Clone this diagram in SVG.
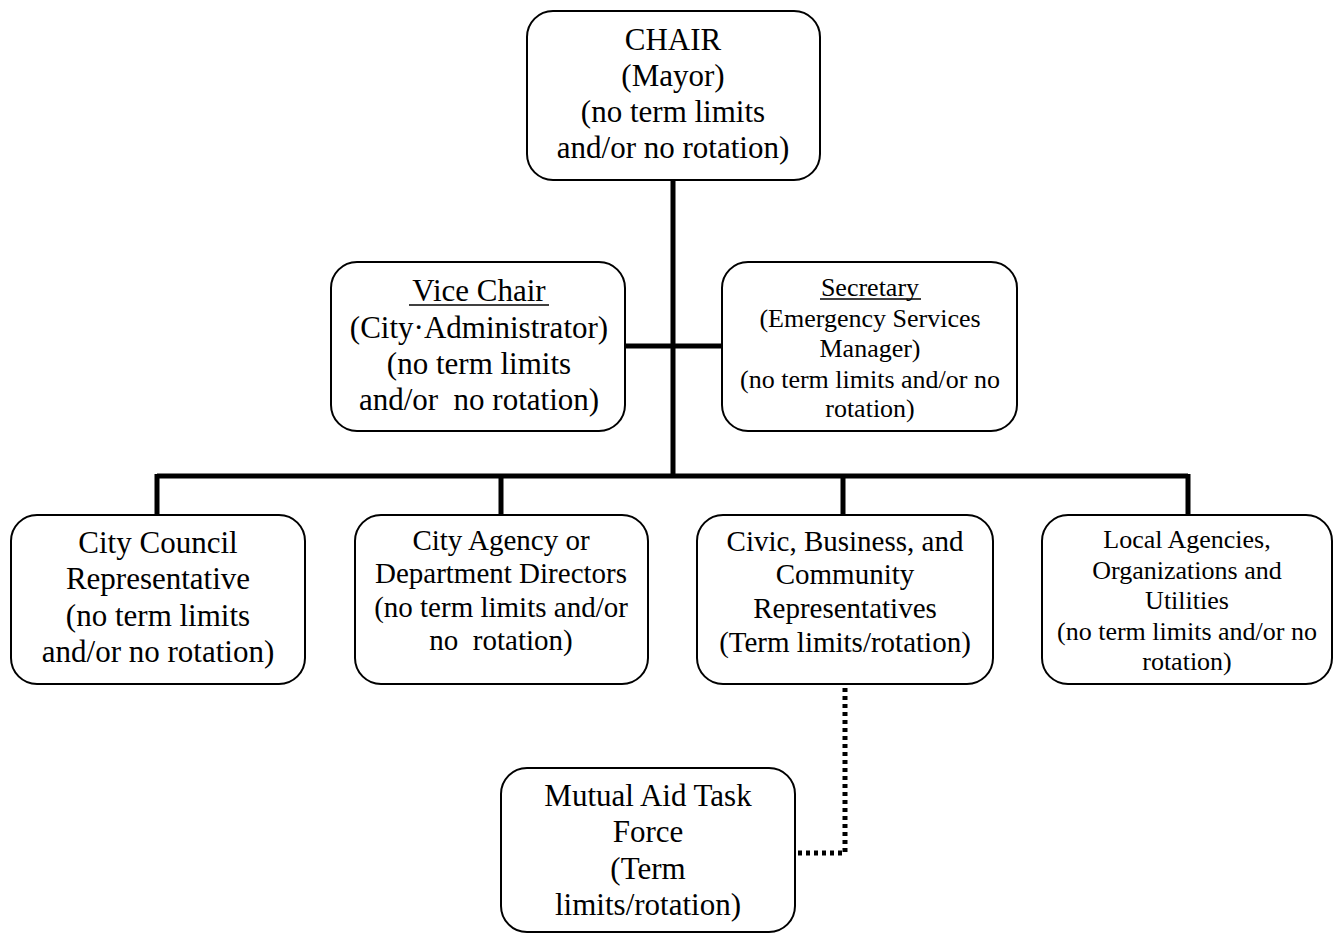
<svg xmlns="http://www.w3.org/2000/svg" width="1339" height="934" viewBox="0 0 1339 934">
<style>
.box{fill:#fff;stroke:#000;stroke-width:2}
.t{font-family:"Liberation Serif","Times New Roman",serif;fill:#000;text-anchor:middle}
.l{font-size:31px}
.m{font-size:29px}
.s{font-size:26px}
.bus{fill:none;stroke:#000;stroke-width:5}
.dot{fill:none;stroke:#000;stroke-width:5;stroke-dasharray:4 4}
.u{stroke:#000;stroke-width:1.5}
</style>
<rect width="1339" height="934" fill="#fff"/>
<g id="connectors">
<path class="bus" d="M673 180V476M625 346H722M157 476H1188M157 474V515M501 474V515M843 474V515M1188 474V515"/>
<path class="dot" d="M845 688V853H797"/>
</g>
<g id="chair">
<rect class="box" x="527" y="11" width="293" height="169" rx="26"/>
<text class="t l" x="673" y="50">CHAIR</text>
<text class="t l" x="673" y="86">(Mayor)</text>
<text class="t l" x="673" y="122">(no term limits</text>
<text class="t l" x="673" y="158">and/or no rotation)</text>
</g>
<g id="vice-chair">
<rect class="box" x="331" y="262" width="294" height="169" rx="26"/>
<text class="t l" x="479" y="301">Vice Chair</text>
<line class="u" x1="409" y1="305" x2="549" y2="305"/>
<text class="t l" x="479" y="338">(City·Administrator)</text>
<text class="t l" x="479" y="374">(no term limits</text>
<text class="t l" x="479" y="410" xml:space="preserve">and/or  no rotation)</text>
</g>
<g id="secretary">
<rect class="box" x="722" y="262" width="295" height="169" rx="26"/>
<text class="t s" x="870" y="296">Secretary</text>
<line class="u" x1="820" y1="299" x2="921" y2="299"/>
<text class="t s" x="870" y="327">(Emergency Services</text>
<text class="t s" x="870" y="357">Manager)</text>
<text class="t s" x="870" y="388">(no term limits and/or no</text>
<text class="t s" x="870" y="417">rotation)</text>
</g>
<g id="city-council">
<rect class="box" x="11" y="515" width="294" height="169" rx="26"/>
<text class="t l" x="158" y="553">City Council</text>
<text class="t l" x="158" y="589">Representative</text>
<text class="t l" x="158" y="626">(no term limits</text>
<text class="t l" x="158" y="662">and/or no rotation)</text>
</g>
<g id="city-agency">
<rect class="box" x="355" y="515" width="293" height="169" rx="26"/>
<text class="t m" x="501" y="550">City Agency or</text>
<text class="t m" x="501" y="583">Department Directors</text>
<text class="t m" x="501" y="617">(no term limits and/or</text>
<text class="t m" x="501" y="650" xml:space="preserve">no  rotation)</text>
</g>
<g id="civic">
<rect class="box" x="697" y="515" width="296" height="169" rx="26"/>
<text class="t m" x="845" y="551">Civic, Business, and</text>
<text class="t m" x="845" y="584">Community</text>
<text class="t m" x="845" y="618">Representatives</text>
<text class="t m" x="845" y="652">(Term limits/rotation)</text>
</g>
<g id="local-agencies">
<rect class="box" x="1042" y="515" width="290" height="169" rx="26"/>
<text class="t s" x="1187" y="548">Local Agencies,</text>
<text class="t s" x="1187" y="579">Organizations and</text>
<text class="t s" x="1187" y="609">Utilities</text>
<text class="t s" x="1187" y="640">(no term limits and/or no</text>
<text class="t s" x="1187" y="670">rotation)</text>
</g>
<g id="mutual-aid">
<rect class="box" x="501" y="768" width="294" height="164" rx="26"/>
<text class="t l" x="648" y="806">Mutual Aid Task</text>
<text class="t l" x="648" y="842">Force</text>
<text class="t l" x="648" y="879">(Term</text>
<text class="t l" x="648" y="915">limits/rotation)</text>
</g>
</svg>
